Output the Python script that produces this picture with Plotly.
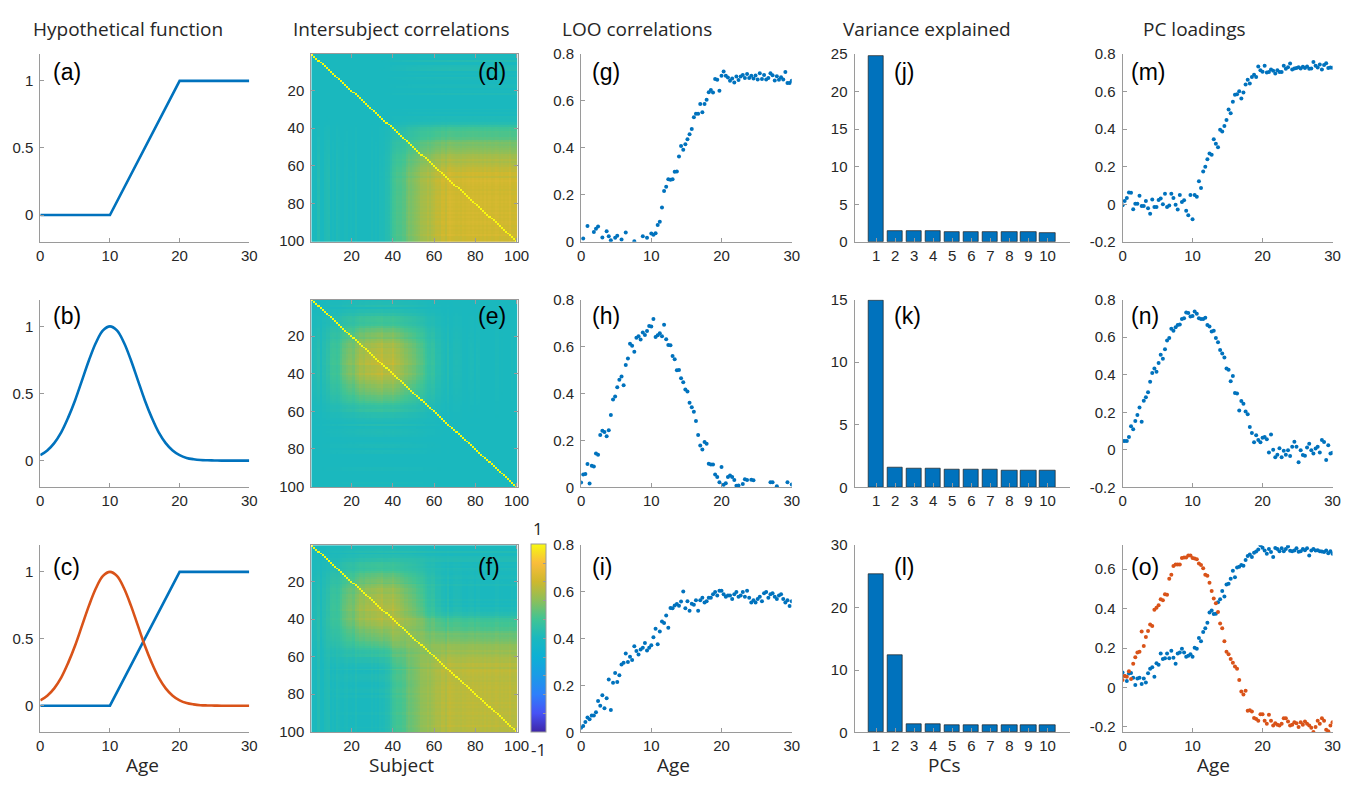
import numpy as np
import plotly.graph_objects as go

W, H = 1364, 785

# ---------------------------------------------------------------- data
# subject ages (100 subjects spread over 0-30 years)
ages = [0.00, 0.30, 0.61, 0.91, 1.21, 1.52, 1.82, 2.12, 2.42, 2.73,
        3.03, 3.33, 3.64, 3.94, 4.24, 4.55, 4.85, 5.15, 5.45, 5.76,
        6.06, 6.36, 6.67, 6.97, 7.27, 7.58, 7.88, 8.18, 8.48, 8.79,
        9.09, 9.39, 9.70, 10.00, 10.30, 10.61, 10.91, 11.21, 11.52, 11.82,
        12.12, 12.42, 12.73, 13.03, 13.33, 13.64, 13.94, 14.24, 14.55, 14.85,
        15.15, 15.45, 15.76, 16.06, 16.36, 16.67, 16.97, 17.27, 17.58, 17.88,
        18.18, 18.48, 18.79, 19.09, 19.39, 19.70, 20.00, 20.30, 20.61, 20.91,
        21.21, 21.52, 21.82, 22.12, 22.42, 22.73, 23.03, 23.33, 23.64, 23.94,
        24.24, 24.55, 24.85, 25.15, 25.45, 25.76, 26.06, 26.36, 26.67, 26.97,
        27.27, 27.58, 27.88, 28.18, 28.48, 28.79, 29.09, 29.39, 29.70, 30.00]
subjects = list(range(1, 101))

# hypothetical age functions
ramp_age = [0, 10, 20, 30]
ramp_val = [0, 0, 1, 1]
bump_age = list(range(31))
bump_val = [0.04, 0.075, 0.13, 0.21, 0.32, 0.45, 0.60, 0.75, 0.88, 0.97,
            1.00, 0.97, 0.88, 0.75, 0.60, 0.45, 0.32, 0.21, 0.13, 0.075,
            0.04, 0.02, 0.01, 0.004, 0.002, 0.001, 0.0, 0.0, 0.0, 0.0, 0.0]

# leave-one-out correlations
loo_ramp = [-0.02, 0.014, -0.03, 0.067, -0.01, -0.02, 0.042, 0.056, 0.065, -0.02,
            0.018, -0.01, 0.045, 0.024, 0.007, -0.02, 0.017, 0.026, -0.01, 0.010,
            -0.03, 0.040, -0.02, -0.04, -0.01, 0.002, -0.03, -0.02, -0.01, 0.024,
            -0.01, 0.017, -0.02, 0.035, 0.030, 0.037, 0.072, 0.086, 0.146, 0.216,
            0.235, 0.267, 0.264, 0.267, 0.299, 0.300, 0.363, 0.408, 0.392, 0.416,
            0.437, 0.458, 0.481, 0.531, 0.545, 0.545, 0.587, 0.552, 0.587, 0.605,
            0.637, 0.647, 0.636, 0.693, 0.690, 0.643, 0.707, 0.725, 0.707, 0.700,
            0.686, 0.696, 0.679, 0.704, 0.689, 0.704, 0.711, 0.698, 0.715, 0.698,
            0.707, 0.696, 0.708, 0.691, 0.718, 0.693, 0.711, 0.691, 0.698, 0.718,
            0.709, 0.687, 0.705, 0.690, 0.701, 0.691, 0.723, 0.677, 0.677, 0.686]
loo_bump = [0.021, 0.055, 0.057, 0.100, 0.017, 0.092, 0.089, 0.144, 0.139, 0.223,
            0.241, 0.236, 0.218, 0.243, 0.308, 0.374, 0.387, 0.427, 0.459, 0.472,
            0.435, 0.521, 0.549, 0.612, 0.603, 0.578, 0.637, 0.644, 0.630, 0.660,
            0.649, 0.666, 0.687, 0.685, 0.717, 0.641, 0.648, 0.657, 0.644, 0.693,
            0.631, 0.606, 0.605, 0.560, 0.546, 0.499, 0.500, 0.465, 0.448, 0.417,
            0.408, 0.361, 0.341, 0.322, 0.283, 0.223, 0.178, 0.161, 0.193, 0.186,
            0.101, 0.098, 0.098, 0.055, 0.044, 0.022, 0.087, 0.011, 0.018, 0.044,
            0.051, 0.044, 0.032, 0.007, 0.008, -0.02, 0.015, 0.035, 0.032, -0.01,
            0.033, 0.030, -0.02, -0.03, -0.01, -0.04, -0.02, -0.03, -0.01, 0.022,
            0.022, -0.02, 0.005, -0.03, -0.02, -0.04, -0.01, 0.022, -0.02, 0.012]
loo_both = [0.020, 0.028, 0.045, 0.064, 0.056, 0.072, 0.072, 0.086, 0.134, 0.114,
            0.159, 0.103, 0.146, 0.226, 0.096, 0.212, 0.254, 0.216, 0.244, 0.290,
            0.298, 0.337, 0.301, 0.323, 0.309, 0.368, 0.348, 0.333, 0.354, 0.362,
            0.382, 0.350, 0.362, 0.372, 0.407, 0.443, 0.377, 0.431, 0.474, 0.468,
            0.499, 0.447, 0.532, 0.530, 0.542, 0.549, 0.541, 0.559, 0.602, 0.530,
            0.560, 0.520, 0.550, 0.545, 0.565, 0.520, 0.565, 0.575, 0.555, 0.560,
            0.575, 0.575, 0.590, 0.600, 0.585, 0.605, 0.605, 0.590, 0.580, 0.585,
            0.585, 0.570, 0.590, 0.600, 0.580, 0.585, 0.600, 0.580, 0.605, 0.575,
            0.555, 0.565, 0.555, 0.570, 0.580, 0.560, 0.595, 0.600, 0.575, 0.590,
            0.595, 0.580, 0.570, 0.585, 0.590, 0.570, 0.555, 0.565, 0.540, 0.560]

# percentage of variance explained by the first ten PCs
pcs = list(range(1, 11))
var_ramp = [24.8, 1.45, 1.40, 1.38, 1.36, 1.33, 1.31, 1.28, 1.25, 1.22]
var_bump = [14.9, 1.58, 1.50, 1.47, 1.44, 1.42, 1.40, 1.38, 1.36, 1.33]
var_both = [25.3, 12.4, 1.35, 1.30, 1.25, 1.22, 1.20, 1.17, 1.15, 1.12]

# PC loadings
pc_ramp = [-0.005, 0.017, 0.033, 0.063, 0.061, -0.026, 0.003, 0.003, 0.045, -0.009,
           -0.009, 0.017, -0.021, -0.050, 0.026, -0.014, -0.014, 0.023, 0.031, 0.000,
           0.056, -0.014, -0.007, 0.056, 0.033, -0.003, -0.028, 0.050, 0.012, 0.021,
           -0.035, -0.059, 0.049, -0.080, 0.049, 0.040, 0.122, 0.087, 0.175, 0.200,
           0.240, 0.270, 0.263, 0.346, 0.322, 0.303, 0.397, 0.388, 0.417, 0.449,
           0.504, 0.485, 0.546, 0.583, 0.586, 0.602, 0.563, 0.595, 0.638, 0.663,
           0.643, 0.678, 0.689, 0.678, 0.734, 0.713, 0.706, 0.737, 0.701, 0.704,
           0.717, 0.711, 0.696, 0.713, 0.704, 0.704, 0.737, 0.722, 0.730, 0.750,
           0.717, 0.723, 0.725, 0.730, 0.723, 0.732, 0.725, 0.734, 0.722, 0.723,
           0.758, 0.737, 0.728, 0.744, 0.717, 0.742, 0.751, 0.725, 0.728, 0.727]
pc_bump = [0.047, 0.047, 0.047, 0.069, 0.126, 0.110, 0.154, 0.185, 0.225, 0.149,
           0.261, 0.280, 0.306, 0.362, 0.409, 0.433, 0.416, 0.462, 0.506, 0.485,
           0.535, 0.582, 0.596, 0.644, 0.634, 0.653, 0.665, 0.667, 0.696, 0.701,
           0.731, 0.729, 0.710, 0.712, 0.736, 0.724, 0.700, 0.696, 0.696, 0.703,
           0.665, 0.656, 0.630, 0.634, 0.596, 0.573, 0.532, 0.513, 0.492, 0.433,
           0.426, 0.365, 0.393, 0.303, 0.300, 0.210, 0.260, 0.246, 0.204, 0.189,
           0.121, 0.090, 0.040, 0.078, 0.052, 0.040, 0.064, 0.069, 0.057, -0.014,
           0.082, 0.000, -0.040, -0.026, 0.009, -0.040, -0.005, -0.026, -0.002, -0.033,
           0.017, 0.043, 0.016, -0.066, -0.002, -0.028, -0.031, 0.012, 0.033, -0.002,
           -0.019, 0.007, 0.016, -0.014, 0.052, 0.042, -0.054, 0.024, -0.019, -0.016]
pc_both_1 = [0.076, 0.059, 0.033, 0.071, 0.074, 0.049, 0.013, 0.046, 0.049, 0.018,
             0.046, 0.026, 0.072, 0.095, 0.103, 0.054, 0.123, 0.115, 0.172, 0.144,
             0.148, 0.172, 0.148, 0.186, 0.151, 0.120, 0.172, 0.177, 0.197, 0.177,
             0.156, 0.161, 0.169, 0.156, 0.202, 0.197, 0.251, 0.235, 0.282, 0.300,
             0.328, 0.381, 0.391, 0.373, 0.374, 0.432, 0.448, 0.490, 0.462, 0.523,
             0.526, 0.551, 0.592, 0.559, 0.608, 0.613, 0.621, 0.618, 0.647, 0.667,
             0.675, 0.662, 0.683, 0.690, 0.700, 0.722, 0.709, 0.695, 0.678, 0.703,
             0.687, 0.662, 0.708, 0.703, 0.691, 0.706, 0.691, 0.703, 0.715, 0.693,
             0.691, 0.695, 0.706, 0.688, 0.691, 0.703, 0.696, 0.706, 0.670, 0.695,
             0.703, 0.695, 0.696, 0.691, 0.690, 0.687, 0.695, 0.681, 0.691, 0.678]
pc_both_2 = [0.038, 0.059, 0.054, 0.082, 0.043, 0.120, 0.153, 0.177, 0.181, 0.284,
             0.210, 0.256, 0.287, 0.320, 0.312, 0.394, 0.404, 0.417, 0.448, 0.443,
             0.473, 0.470, 0.551, 0.572, 0.616, 0.624, 0.624, 0.624, 0.657, 0.659,
             0.659, 0.670, 0.670, 0.657, 0.654, 0.650, 0.629, 0.621, 0.605, 0.572,
             0.567, 0.531, 0.490, 0.452, 0.427, 0.383, 0.325, 0.300, 0.235, 0.181,
             0.169, 0.144, 0.125, 0.107, 0.095, 0.038, -0.020, -0.036, -0.016, -0.118,
             -0.115, -0.122, -0.154, -0.159, -0.168, -0.135, -0.135, -0.168, -0.184, -0.138,
             -0.168, -0.192, -0.181, -0.189, -0.192, -0.184, -0.156, -0.156, -0.172, -0.192,
             -0.189, -0.176, -0.181, -0.200, -0.176, -0.189, -0.172, -0.184, -0.192, -0.204,
             -0.225, -0.200, -0.168, -0.184, -0.156, -0.168, -0.214, -0.222, -0.192, -0.176]

# ------------------------------------------------------------ styling
BLUE = '#0072BD'
RED = '#D95319'
AXC = '#9a9a9a'
TXT = '#262626'
TICK_FONT = dict(family='Liberation Sans, Arial', size=15, color=TXT)
LBL_FONT = dict(family='Open Sans', size=19, color=TXT)
LET_FONT = dict(family='Liberation Sans, Arial', size=23, color='#000000')

# parula-like colour map
PARULA = [[0.00, 'rgb(62,38,168)'], [0.10, 'rgb(71,82,245)'],
          [0.20, 'rgb(46,128,250)'], [0.30, 'rgb(26,155,230)'],
          [0.40, 'rgb(13,176,212)'], [0.50, 'rgb(26,184,190)'],
          [0.60, 'rgb(64,196,148)'], [0.70, 'rgb(140,191,90)'],
          [0.80, 'rgb(206,184,46)'], [0.90, 'rgb(250,189,59)'],
          [0.95, 'rgb(247,219,38)'], [1.00, 'rgb(249,250,14)']]

col_px = [(36.7, 248.0), (310.7, 519.3), (583.5, 796.5), (860.0, 1078.3), (1131.0, 1343.3)]
row_px = [(46.0, 238.0), (297.0, 489.0), (548.0, 739.5)]


def ax_names(r, c):
    n = r * 5 + c + 1
    s = '' if n == 1 else str(n)
    return n, 'x' + s, 'y' + s, 'xaxis' + s, 'yaxis' + s


def fmt(v):
    s = ('%.1f' % v).rstrip('0').rstrip('.')
    return '0' if s in ('-0', '') else s


def isc_matrix(profiles, gain, base=0.0):
    z = np.full((100, 100), base)
    for p in profiles:
        v = np.clip(np.asarray(p, dtype=float), 0, None)
        z = z + gain * np.outer(v, v)
    np.fill_diagonal(z, 1.0)
    return z


fig = go.Figure()
layout = {}

# per-panel settings: (x range, x ticks, y range, y ticks)
age_x = ([0, 30], [0, 10, 20, 30])
subj = ([0.5, 100.5], [20, 40, 60, 80, 100])
bar_x = ([-0.13, 11.2], pcs)
panel_axes = {
    (0, 0): (age_x, ([-0.2, 1.2], [0, 0.5, 1])),
    (1, 0): (age_x, ([-0.2, 1.2], [0, 0.5, 1])),
    (2, 0): (age_x, ([-0.2, 1.2], [0, 0.5, 1])),
    (0, 1): (subj, ([100.5, 0.5], [20, 40, 60, 80, 100])),
    (1, 1): (subj, ([100.5, 0.5], [20, 40, 60, 80, 100])),
    (2, 1): (subj, ([100.5, 0.5], [20, 40, 60, 80, 100])),
    (0, 2): (age_x, ([0, 0.8], [0, 0.2, 0.4, 0.6, 0.8])),
    (1, 2): (age_x, ([0, 0.8], [0, 0.2, 0.4, 0.6, 0.8])),
    (2, 2): (age_x, ([0, 0.8], [0, 0.2, 0.4, 0.6, 0.8])),
    (0, 3): (bar_x, ([0, 25], [0, 5, 10, 15, 20, 25])),
    (1, 3): (bar_x, ([0, 15], [0, 5, 10, 15])),
    (2, 3): (bar_x, ([0, 30], [0, 10, 20, 30])),
    (0, 4): (age_x, ([-0.2, 0.8], [-0.2, 0, 0.2, 0.4, 0.6, 0.8])),
    (1, 4): (age_x, ([-0.2, 0.8], [-0.2, 0, 0.2, 0.4, 0.6, 0.8])),
    (2, 4): (age_x, ([-0.228, 0.722], [-0.2, 0, 0.2, 0.4, 0.6])),
}

for (r, c), ((xr, xt), (yr, yt)) in panel_axes.items():
    n, xs, ys, xk, yk = ax_names(r, c)
    boxed = (c == 1)
    common = dict(showline=True, linecolor=AXC, linewidth=1, ticks='inside',
                  ticklen=4, tickcolor=AXC, showgrid=False, zeroline=False,
                  tickfont=TICK_FONT, fixedrange=True,
                  mirror='ticks' if boxed else False)
    layout[xk] = dict(common, domain=[col_px[c][0] / W, col_px[c][1] / W],
                      anchor=ys, range=xr, tickvals=xt,
                      ticktext=[fmt(v) for v in xt])
    layout[yk] = dict(common, domain=[1 - row_px[r][1] / H, 1 - row_px[r][0] / H],
                      anchor=xs, range=yr, tickvals=yt, ticklabelstandoff=3,
                      ticktext=[fmt(v) for v in yt])

# column 1: hypothetical functions
line_sets = {0: [(ramp_age, ramp_val, BLUE, 'linear')],
             1: [(bump_age, bump_val, BLUE, 'spline')],
             2: [(ramp_age, ramp_val, BLUE, 'linear'), (bump_age, bump_val, RED, 'spline')]}
for r, lines in line_sets.items():
    n, xs, ys, _, _ = ax_names(r, 0)
    for xv, yv, col, shape in lines:
        fig.add_trace(go.Scatter(x=xv, y=yv, mode='lines', xaxis=xs, yaxis=ys,
                                 line=dict(color=col, width=2.6, shape=shape),
                                 showlegend=False))

# column 2: intersubject correlation matrices
mats = [isc_matrix([loo_ramp], 1.25),
        isc_matrix([loo_bump], 1.2),
        isc_matrix([loo_ramp, loo_bump], 1.1)]
for r, z in enumerate(mats):
    n, xs, ys, _, _ = ax_names(r, 1)
    hm = dict(z=z, x=subjects, y=subjects, xaxis=xs, yaxis=ys, zmin=-1, zmax=1,
              colorscale=PARULA, showscale=(r == 2))
    if r == 2:
        hm['colorbar'] = dict(x=532.7 / W, xanchor='left', xpad=0,
                              y=1 - 739.3 / H, yanchor='bottom', ypad=0,
                              len=(739.3 - 546.7) / H, lenmode='fraction',
                              thickness=14.6, thicknessmode='pixels',
                              ticks='inside', ticklen=3, tickcolor=AXC,
                              tickvals=[-0.8, -0.6, -0.4, -0.2, 0, 0.2, 0.4, 0.6, 0.8],
                              showticklabels=False, outlinewidth=1, outlinecolor=AXC)
    fig.add_trace(go.Heatmap(**hm))

# column 3: LOO correlations
for r, vals in enumerate([loo_ramp, loo_bump, loo_both]):
    n, xs, ys, _, _ = ax_names(r, 2)
    fig.add_trace(go.Scatter(x=ages, y=vals, mode='markers', xaxis=xs, yaxis=ys,
                             marker=dict(color=BLUE, size=4), showlegend=False))

# column 4: variance explained
for r, vals in enumerate([var_ramp, var_bump, var_both]):
    n, xs, ys, _, _ = ax_names(r, 3)
    fig.add_trace(go.Bar(x=pcs, y=vals, xaxis=xs, yaxis=ys, width=0.8,
                         marker=dict(color=BLUE, line=dict(color='#1f1f1f', width=0.7)),
                         showlegend=False))

# column 5: PC loadings
pc_sets = {0: [(pc_ramp, BLUE)], 1: [(pc_bump, BLUE)],
           2: [(pc_both_1, BLUE), (pc_both_2, RED)]}
for r, sets in pc_sets.items():
    n, xs, ys, _, _ = ax_names(r, 4)
    for vals, col in sets:
        fig.add_trace(go.Scatter(x=ages, y=vals, mode='markers', xaxis=xs, yaxis=ys,
                                 marker=dict(color=col, size=4), showlegend=False))

# text: column titles, axis labels, panel letters
ann = []
titles = [('Hypothetical function', 125.5), ('Intersubject correlations', 402),
          ('LOO correlations', 640), ('Variance explained', 933), ('PC loadings', 1204)]
for t, cx in titles:
    ann.append(dict(text=t, x=cx / W, y=1 - 20 / H, xref='paper', yref='paper',
                    xanchor='center', yanchor='middle', showarrow=False, font=LBL_FONT))
xlabels = [('Age', 140), ('Subject', 402), ('Age', 677), ('PCs', 950), ('Age', 1223)]
for t, cx in xlabels:
    ann.append(dict(text=t, x=cx / W, y=1 - 773 / H, xref='paper', yref='paper',
                    xanchor='center', yanchor='middle', showarrow=False, font=LBL_FONT))
letters = 'abcdefghijklmno'
letter_x = [48, 477, 593, 898, 1138]
letter_y = [64, 314, 570]
for c in range(5):
    for r in range(3):
        ann.append(dict(text='(%s)' % letters[c * 3 + r], x=letter_x[c] / W,
                        y=1 - letter_y[r] / H, xref='paper', yref='paper',
                        xanchor='left', yanchor='middle', showarrow=False, font=LET_FONT))
cb_font = dict(family='Open Sans', size=17, color=TXT)
ann.append(dict(text='1', x=540 / W, y=1 - 531 / H, xref='paper', yref='paper',
                xanchor='center', yanchor='middle', showarrow=False, font=cb_font))
ann.append(dict(text='-1', x=540 / W, y=1 - 757 / H, xref='paper', yref='paper',
                xanchor='center', yanchor='middle', showarrow=False, font=cb_font))

layout.update(dict(width=W, height=H, margin=dict(l=0, r=0, t=0, b=0),
                   paper_bgcolor='white', plot_bgcolor='white',
                   annotations=ann, showlegend=False, bargap=0))
fig.update_layout(**layout)
fig.write_html('out.html')
